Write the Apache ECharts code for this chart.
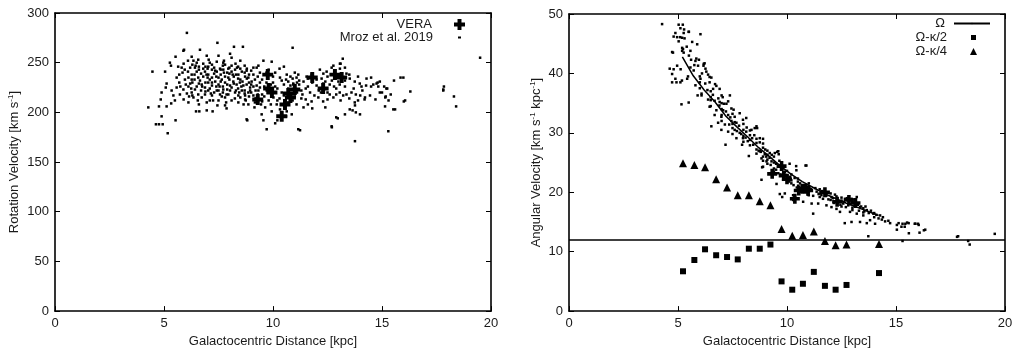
<!DOCTYPE html>
<html>
<head>
<meta charset="utf-8">
<script src="https://cdn.jsdelivr.net/npm/echarts@6/dist/echarts.min.js"></script>
<style>
  html, body { margin: 0; background: #fff; }
  #chart { width: 1018px; height: 353px; }
</style>
</head>
<body>
<div id="chart"></div>
<script>
// distance ticks shared by both panels
const xTicks = [0, 5, 10, 15, 20]
const vTicks = [0, 50, 100, 150, 200, 250, 300]
const omegaTicks = [0, 10, 20, 30, 40, 50]

// left panel: rotation velocity [R kpc, V km/s]
const veraRV = [
  [9.76, 238], [9.3, 213], [9.8, 224], [9.95, 220], [10.4, 196], [10.55, 208],
  [10.7, 219], [11.0, 223], [10.8, 215], [11.8, 235], [12.3, 224], [12.84, 238], [13.15, 235]
]
const mrozRV = [
  [4.28, 205], [4.47, 241], [4.63, 188], [4.77, 188], [4.94, 188], [4.77, 206], [4.89, 196], [5.17, 179],
  [5.05, 241], [5.27, 250], [5.53, 256], [5.53, 192], [6.05, 280], [5.92, 263], [7.45, 270], [7.75, 252],
  [8.03, 259], [8.21, 266], [8.62, 266], [6.65, 263], [10.9, 265], [8.79, 193], [9.71, 183], [11.16, 183],
  [13.76, 171], [15.29, 181], [12.69, 186], [12.97, 194], [13.99, 198], [17.81, 223], [17.84, 226], [18.3, 216],
  [18.4, 206], [19.5, 255], [15.98, 235], [15.55, 232], [16.3, 221], [16.0, 211], [15.6, 203], [15.14, 206],
  [15.24, 224], [15.17, 216], [14.75, 229], [14.83, 226], [14.27, 227], [14.22, 215], [13.07, 249], [13.2, 254],
  [13.07, 244], [13.76, 207], [13.65, 202],
  [4.89, 220], [4.85, 213], [5.12, 229], [5.08, 225], [5.32, 247], [5.89, 262], [8.1, 255], [7.5, 257],
  [6.96, 257], [6.27, 256], [6.35, 252], [5.81, 245], [5.85, 240], [5.58, 235], [5.7, 230], [5.43, 217],
  [5.5, 212], [5.9, 213], [5.33, 209], [5.12, 206], [6.62, 201], [6.47, 201], [7.23, 201], [7.87, 204],
  [7.8, 207], [8.82, 192], [9.56, 192], [10.1, 189], [9.56, 252], [9.25, 245], [9.33, 247], [10.5, 246],
  [9.94, 251], [8.79, 242], [8.7, 247], [8.5, 252], [8.28, 249], [7.72, 250], [7.8, 248], [7.42, 251],
  [7.2, 248], [7.03, 246], [6.8, 249], [6.57, 253], [6.6, 246], [6.42, 245], [6.5, 241], [6.27, 238],
  [6.12, 235], [5.96, 233], [6.27, 233], [6.57, 235], [6.65, 232], [6.88, 241], [7.03, 238], [7.2, 243],
  [7.42, 241], [7.57, 244], [7.72, 243], [7.95, 244], [8.1, 241], [8.26, 243], [8.41, 238], [8.57, 241],
  [8.72, 236], [8.87, 235], [9.1, 238], [9.02, 231], [9.17, 233], [6.73, 228], [6.88, 225], [7.03, 230],
  [7.2, 227], [7.35, 231], [7.5, 228], [7.65, 233], [7.8, 230], [7.95, 235], [8.03, 227], [8.18, 231],
  [8.33, 228], [8.48, 230], [8.64, 227], [8.79, 228], [8.95, 225], [9.25, 227], [9.33, 222], [6.42, 223],
  [6.57, 218], [6.27, 220], [6.12, 226], [5.89, 223], [6.88, 218], [7.03, 222], [7.2, 217], [7.42, 222],
  [7.57, 218], [7.72, 223], [7.87, 218], [8.03, 222], [8.26, 220], [8.41, 217], [8.57, 222], [8.72, 217],
  [8.87, 220], [9.1, 217], [6.73, 215], [6.96, 210], [7.1, 212], [7.5, 212], [7.8, 215], [8.1, 212],
  [8.41, 210], [8.72, 213], [8.87, 208], [9.17, 210], [6.35, 215], [6.12, 210], [5.73, 218], [5.58, 225],
  [5.35, 222], [6.96, 202],
  [10.32, 235], [10.63, 238], [10.7, 231], [10.93, 228], [11.08, 222], [9.71, 222], [10.02, 215], [10.17, 208],
  [10.32, 203], [10.63, 201], [10.86, 198], [9.94, 201], [9.64, 205], [9.48, 198], [11.08, 208],
  [13.1, 249], [12.69, 245], [12.77, 247], [13.3, 245], [13.37, 239], [12.31, 239], [12.23, 234], [12.4, 231],
  [13.52, 234], [13.75, 231], [13.98, 229], [14.06, 226], [14.29, 234], [14.5, 226], [14.6, 228], [14.8, 230],
  [15.1, 226], [15.2, 224], [15.4, 218], [15.85, 235], [16.06, 212], [15.52, 203], [15.3, 212], [14.9, 220],
  [14.7, 213], [14.45, 217], [14.2, 213], [14.0, 217], [13.8, 218], [13.6, 220], [13.37, 218], [13.22, 217],
  [13.06, 220], [12.9, 218], [12.77, 215], [12.6, 218], [12.5, 213], [12.3, 211], [12.08, 215], [11.9, 217],
  [11.77, 211], [11.6, 208], [11.5, 213], [11.35, 218], [11.3, 222], [11.1, 220], [11.2, 228], [11.4, 231],
  [11.6, 234], [11.8, 230], [12.0, 227], [13.75, 210], [13.52, 203], [13.8, 200], [13.3, 198], [12.9, 195],
  [12.7, 185], [11.24, 182], [17.81, 222], [15.0, 220], [15.15, 215],
  [10.93, 229], [11.08, 235], [11.16, 238], [11.54, 236], [11.77, 238], [12.15, 243], [12.46, 241], [12.9, 235],
  [13.06, 228], [12.6, 228], [10.85, 215],
  [6.2, 245], [6.4, 238], [6.6, 243], [6.8, 236], [7.0, 244], [7.1, 233], [7.3, 239], [7.4, 226],
  [7.6, 238], [7.7, 226], [7.9, 240], [8.0, 233], [8.2, 236], [8.4, 224], [8.5, 233], [8.7, 240],
  [8.9, 230], [9.0, 220], [9.2, 214], [9.4, 230], [9.5, 218], [9.6, 226], [9.8, 212], [10.0, 230],
  [10.2, 224], [10.3, 214], [10.5, 228], [10.7, 224], [10.9, 212], [11.0, 240], [6.0, 228], [6.3, 230],
  [6.5, 226], [6.7, 222], [6.9, 230], [7.1, 224], [7.3, 220], [7.5, 235], [7.7, 220], [7.9, 228],
  [8.1, 225], [8.3, 238], [8.5, 215], [8.7, 222], [8.9, 238], [9.1, 226], [9.3, 236], [9.5, 211],
  [9.7, 230], [9.9, 208], [5.7, 238], [5.9, 249], [6.1, 252], [6.3, 217], [6.6, 208], [6.9, 246],
  [7.2, 235], [7.6, 243], [8.0, 245], [8.4, 246], [8.8, 244], [9.0, 242], [9.4, 240], [9.8, 243],
  [10.1, 240], [10.4, 232], [10.8, 236], [11.2, 232], [11.6, 226], [12.0, 233], [12.2, 220], [12.5, 236],
  [12.8, 226], [13.0, 231], [13.3, 226], [13.5, 238], [13.9, 236], [14.1, 222], [14.5, 235], [14.9, 231],
  [6.1, 241], [6.2, 229], [6.3, 248], [6.4, 233], [6.5, 250], [6.6, 229], [6.7, 239], [6.8, 244],
  [6.9, 221], [7.0, 235], [7.1, 250], [7.2, 230], [7.3, 245], [7.4, 236], [7.5, 222], [7.6, 231],
  [7.7, 247], [7.8, 236], [7.9, 223], [8.0, 239], [8.1, 247], [8.2, 229], [8.3, 222], [8.4, 234],
  [8.5, 244], [8.6, 231], [8.7, 219], [8.8, 234], [8.9, 216], [9.0, 228], [9.1, 245], [9.2, 222],
  [9.3, 218], [9.4, 225], [9.5, 233], [9.6, 216], [9.7, 240], [9.9, 228], [10.0, 236], [10.1, 226],
  [10.2, 212], [10.3, 244], [10.4, 220], [10.5, 217], [10.6, 233], [10.7, 210], [10.8, 227], [10.9, 234],
  [11.0, 216], [11.1, 230], [11.3, 214], [11.5, 224], [11.7, 220], [11.9, 235], [12.1, 222], [12.3, 229],
  [12.5, 220], [12.7, 232], [12.9, 224], [13.1, 212], [13.3, 232], [13.5, 214], [13.7, 224], [13.9, 212],
  [6.05, 219], [6.25, 224], [6.45, 247], [6.75, 226], [6.95, 238], [7.15, 219], [7.35, 242], [7.55, 226],
  [7.75, 240], [7.95, 218], [8.15, 238], [8.35, 245], [8.55, 226], [8.75, 212], [8.95, 222], [7.05, 253],
  [7.65, 216], [8.45, 220], [5.95, 243], [5.75, 226], [5.65, 246], [6.15, 216], [7.25, 212], [7.85, 210],
  [8.65, 208], [9.15, 205], [9.45, 208], [10.6, 196], [10.2, 192], [11.4, 205], [11.8, 204], [12.4, 205],
  [6.55, 212], [7.45, 207], [8.25, 214]
]

// right panel: angular velocity [R kpc, Omega km/s/kpc]
const omegaR = [5.2, 5.7, 6.2, 6.7, 7.2, 7.7, 8.2, 8.7, 9.2, 9.7, 10.2, 10.7, 11.2, 11.7, 12.2, 12.7, 13.2, 13.7, 14.2]
const omegaVal = [42.8, 39.6, 37.2, 35.2, 32.8, 31.0, 29.3, 27.5, 26.0, 24.4, 23.0, 21.8, 20.8, 19.8, 19.0, 18.2, 17.5, 16.8, 16.1]
const kappaR = [5.23, 5.75, 6.24, 6.75, 7.25, 7.74, 8.25, 8.75, 9.24, 9.75, 10.24, 10.73, 11.23, 11.74, 12.23, 12.73, 14.22]
const omegaMinusHalfKappa = [6.7, 8.6, 10.4, 9.4, 9.1, 8.7, 10.5, 10.5, 11.2, 5.0, 3.6, 4.6, 6.6, 4.25, 3.6, 4.4, 6.4]
const omegaMinusQuarterKappa = [24.9, 24.6, 24.2, 22.2, 20.8, 19.5, 19.5, 18.5, 17.8, 13.8, 12.7, 12.8, 13.4, 11.8, 11.1, 11.2, 11.3]
const patternSpeed = 12
const veraOmega = [
  [9.32, 23.1], [9.75, 24.4], [9.85, 22.8], [10.0, 22.2], [10.36, 18.9], [10.54, 20.3], [10.7, 20.6],
  [10.85, 20.6], [10.97, 20.3], [11.74, 20.0], [12.3, 18.4], [12.84, 18.7], [13.14, 18.2]
]
const mrozOmega = [
  [4.27, 48.3], [5.03, 48.2], [5.22, 48.2], [5.11, 47.6], [4.88, 46.8], [4.8, 46.2], [4.96, 46.1], [5.19, 46.0],
  [5.26, 46.8], [5.49, 47.0], [6.03, 46.6], [5.88, 44.9], [5.19, 44.3], [5.19, 43.8], [5.26, 43.5], [5.03, 45.4],
  [4.73, 43.6], [4.62, 40.8], [4.8, 40.7], [4.96, 41.3], [4.73, 39.9], [4.88, 39.1], [4.73, 38.5], [5.11, 38.5],
  [5.42, 39.1], [5.8, 42.1], [5.92, 41.3], [6.18, 41.6], [6.26, 40.8], [5.57, 43.8], [5.16, 34.8], [5.49, 35.1],
  [6.08, 36.6], [5.9, 36.3], [5.8, 38.0], [6.03, 39.1], [5.57, 41.0], [5.72, 40.5],
  [5.28, 47.4], [5.5, 47.0], [5.1, 46.1], [5.3, 45.9], [4.77, 43.5], [5.23, 44.1], [5.12, 40.7], [4.93, 38.5],
  [5.18, 38.8], [5.46, 39.5], [5.84, 42.5], [5.96, 42.3], [6.22, 41.7], [6.17, 41.3], [6.3, 40.3], [6.38, 39.8],
  [6.53, 39.3], [6.45, 38.5], [6.76, 37.9], [6.61, 37.4], [6.91, 37.4], [6.08, 36.3], [7.0, 36.3], [7.38, 36.3],
  [6.38, 35.6], [6.68, 35.4], [6.91, 35.2], [7.22, 34.9], [6.45, 34.4], [6.76, 33.8], [7.07, 33.8], [7.45, 34.1],
  [6.68, 33.0], [6.99, 32.7], [7.3, 33.0], [7.6, 32.7], [7.83, 33.3], [6.53, 31.1], [6.84, 31.7], [7.15, 31.4],
  [7.45, 32.0], [7.68, 31.7], [7.98, 32.2], [8.13, 32.5], [8.52, 30.8], [8.6, 31.1], [6.99, 30.5], [7.3, 30.2],
  [7.6, 30.5], [7.83, 30.0], [8.13, 30.2], [8.37, 30.5], [8.75, 29.1], [8.9, 29.0], [7.98, 29.1], [7.68, 29.1],
  [8.75, 26.9], [8.98, 26.4], [9.21, 26.6], [9.44, 26.6], [9.6, 26.9], [8.83, 25.7], [9.06, 25.2], [9.29, 25.2],
  [8.9, 24.3], [9.67, 24.5], [9.6, 23.2], [9.37, 23.2], [9.9, 23.4], [9.82, 22.1], [10.05, 22.4], [10.51, 21.1],
  [10.59, 20.6], [10.28, 19.5], [10.74, 20.4], [11.05, 20.6], [11.36, 20.1], [11.73, 20.2], [11.58, 19.5], [12.04, 19.2],
  [12.27, 19.3], [12.35, 18.3], [12.66, 18.9], [12.96, 18.9], [13.12, 18.1], [12.81, 17.8], [12.58, 18.1], [13.2, 19.2],
  [13.35, 17.5], [13.66, 17.0], [13.96, 16.4], [14.27, 16.1], [12.65, 14.8], [12.96, 15.0], [13.35, 15.0], [13.66, 14.8],
  [13.81, 15.3], [14.04, 14.7], [14.35, 15.4], [14.65, 15.2], [14.73, 14.8], [15.04, 14.5], [15.12, 14.8], [15.43, 14.7],
  [15.58, 14.8], [15.89, 14.7], [16.04, 14.5], [15.04, 13.7], [16.34, 13.7], [10.89, 24.5], [10.43, 23.7], [11.2, 16.4],
  [10.12, 24.8], [8.83, 22.1], [9.52, 21.4], [9.67, 19.7], [10.74, 18.4], [10.28, 18.7], [11.13, 18.1], [11.43, 18.1],
  [11.81, 17.8], [12.04, 17.5], [12.27, 17.2], [12.43, 16.7], [12.89, 16.7], [13.2, 16.4], [13.5, 16.1],
  [15.51, 14.9], [15.3, 14.7], [15.86, 14.7], [16.01, 14.7], [15.4, 14.2], [15.25, 14.2], [16.28, 13.6], [15.59, 13.1],
  [16.08, 13.2], [17.8, 12.5], [17.85, 12.6], [18.31, 11.8], [18.38, 11.2], [19.53, 13.0], [15.3, 11.8], [13.73, 12.6],
  [10.42, 24.4], [9.78, 19.2], [9.9, 19.8],
  [8.0, 29.5], [8.0, 30.5], [8.0, 31.5], [8.0, 28.5], [8.3, 28.8], [8.3, 29.6], [8.3, 27.9], [8.3, 30.4],
  [8.6, 27.2], [8.6, 28.3], [8.6, 29.0], [8.6, 26.5], [8.9, 26.0], [8.9, 27.5], [8.9, 28.2], [8.9, 25.3],
  [9.1, 25.5], [9.1, 26.3], [9.1, 24.8], [9.1, 27.0], [9.4, 24.0], [9.4, 25.0], [9.4, 23.5], [9.4, 26.0],
  [10.2, 22.0], [10.2, 21.5], [10.2, 23.0], [10.5, 21.8], [10.5, 22.3], [11.0, 20.0], [11.0, 21.0], [11.0, 19.5],
  [11.0, 21.5], [11.5, 19.8], [11.5, 20.5], [11.5, 19.2], [12.0, 18.7], [12.0, 19.8], [12.5, 17.6], [12.5, 18.6],
  [12.5, 19.1], [13.0, 17.4], [13.0, 18.4], [13.0, 17.0], [13.5, 16.6], [13.5, 17.3], [14.0, 15.8], [14.0, 16.5],
  [6.0, 37.5], [6.0, 38.5], [6.0, 39.5], [6.5, 36.0], [6.5, 37.0], [6.5, 34.5], [6.5, 35.5], [7.0, 33.0],
  [7.0, 34.0], [7.0, 32.0], [7.0, 35.0], [7.5, 31.5], [7.5, 30.8], [7.5, 33.2], [7.5, 29.8],
  [7.18, 28.0], [8.25, 26.1], [8.86, 24.2], [7.94, 28.0], [9.62, 26.4], [8.63, 30.8], [9.55, 26.8], [10.85, 24.5],
  [7.6, 31.8], [7.7, 30.3], [7.8, 31.2], [7.9, 29.8], [8.1, 29.2], [8.15, 30.9], [8.2, 28.6], [8.4, 29.1],
  [8.45, 28.0], [8.5, 29.6], [8.7, 27.0], [8.75, 28.4], [8.8, 26.8], [9.0, 27.2], [9.05, 26.0], [9.2, 25.8],
  [9.25, 24.6], [9.3, 26.3], [9.5, 24.8], [9.5, 23.8], [9.65, 25.3], [9.7, 23.0], [9.8, 24.0], [9.95, 22.9],
  [10.0, 23.6], [10.1, 21.8], [10.15, 22.6], [10.3, 21.2], [10.35, 22.4], [10.45, 20.8], [10.6, 21.5], [10.65, 20.1],
  [10.8, 21.0], [10.9, 20.2], [10.95, 19.6], [11.1, 20.5], [11.2, 19.4], [11.3, 20.7], [11.45, 19.7], [11.6, 20.2],
  [11.65, 18.9], [11.8, 19.4], [11.9, 18.8], [12.1, 19.0], [12.15, 18.2], [12.2, 19.6], [12.4, 18.5], [12.45, 17.9],
  [12.6, 18.4], [12.7, 17.5], [12.75, 19.0], [12.9, 18.0], [13.0, 18.8], [13.1, 17.7], [13.25, 17.9], [13.3, 16.9],
  [13.4, 17.6], [13.55, 16.8], [13.6, 17.6], [13.75, 16.5], [13.85, 16.9], [14.1, 16.2], [14.2, 15.6], [14.4, 15.8],
  [14.5, 15.1], [6.1, 40.0], [6.25, 38.3], [6.35, 37.2], [6.45, 39.4], [6.6, 36.4], [6.7, 38.2], [6.85, 35.8],
  [6.9, 34.6], [7.05, 36.0], [7.1, 34.9], [7.2, 33.6], [7.3, 35.3], [7.4, 32.6], [7.35, 31.4], [7.55, 33.9],
  [5.6, 42.3], [5.75, 41.4], [5.5, 43.0], [5.4, 44.5], [5.65, 45.3]
]

const fontFamily = '"Liberation Sans", Arial, sans-serif'
const textColor = '#1a1a1a'
const crossSymbol = 'path://M3.2,0H6.8V3.2H10V6.8H6.8V10H3.2V6.8H0V3.2H3.2Z'
const solidBlack = { color: '#000', opacity: 1 }

let chart = echarts.init(document.getElementById('chart'))

// 边框式坐标轴：底/左带标签，顶/右只有刻度
function boxAxes(gridIndex, ticks, name, nameGap, isX) {
  const step = ticks[1] - ticks[0]
  const base = {
    gridIndex: gridIndex,
    type: 'value',
    min: ticks[0],
    max: ticks[ticks.length - 1],
    interval: step,
    splitLine: { show: false },
    axisLine: { show: true, onZero: false, lineStyle: { color: '#000', width: 1.6 } },
    axisTick: { show: true, inside: true, length: 5, lineStyle: { color: '#000', width: 1 } }
  }
  return [
    Object.assign({}, base, {
      position: isX ? 'bottom' : 'left',
      name: name,
      nameLocation: 'middle',
      nameGap: nameGap,
      nameTextStyle: {
        fontFamily: fontFamily,
        fontSize: 13,
        color: textColor,
        rich: {
          t: { fontFamily: fontFamily, fontSize: 13, color: textColor },
          sup: { fontFamily: fontFamily, fontSize: 8, color: textColor, verticalAlign: 'top', padding: [0, 0, 6, 0] }
        }
      },
      axisLabel: { show: true, margin: 6, fontFamily: fontFamily, fontSize: 13, color: textColor }
    }),
    Object.assign({}, base, {
      position: isX ? 'top' : 'right',
      axisLabel: { show: false }
    })
  ]
}

// 图例：文字在左，符号在右；gap 用文字右侧留白调
function legendItem(name, right, top, w, h, gap) {
  return {
    data: [name],
    orient: 'vertical',
    align: 'right',
    right: right,
    top: top,
    itemWidth: w,
    itemHeight: h,
    padding: 0,
    selectedMode: false,
    textStyle: { fontFamily: fontFamily, fontSize: 13, color: textColor, padding: [0, gap, 0, 0] }
  }
}

const option = {
  animation: false,
  backgroundColor: '#fff',
  grid: [
    { left: 55, right: 527, top: 13, bottom: 37 },
    { left: 569, right: 13, top: 14, bottom: 37 }
  ],
  xAxis: [].concat(
    boxAxes(0, xTicks, 'Galactocentric Distance [kpc]', 18, true),
    boxAxes(1, xTicks, 'Galactocentric Distance [kpc]', 18, true)
  ),
  yAxis: [].concat(
    boxAxes(0, vTicks, '{t|Rotation Velocity [km s}{sup|-1}{t|]}', 34, false),
    boxAxes(1, omegaTicks, '{t|Angular Velocity [km s}{sup|-1}{t| kpc}{sup|-1}{t|]}', 26, false)
  ),
  legend: [
    legendItem('VERA', 553, 18, 11, 11, 17),
    legendItem('Mroz et al. 2019', 557, 31, 3, 2, 20),
    legendItem('Ω', 27, 17, 36, 2, 4),
    legendItem('Ω-κ/2', 42, 31, 5, 5, 19),
    legendItem('Ω-κ/4', 41, 45, 7, 7, 18)
  ],
  series: [
    {
      name: 'Mroz et al. 2019',
      type: 'scatter',
      xAxisIndex: 0,
      yAxisIndex: 0,
      symbol: 'rect',
      symbolSize: [2.5, 2.5],
      itemStyle: solidBlack,
      data: mrozRV
    },
    {
      name: 'VERA',
      type: 'scatter',
      xAxisIndex: 0,
      yAxisIndex: 0,
      symbol: crossSymbol,
      symbolSize: 11,
      itemStyle: solidBlack,
      data: veraRV
    },
    {
      name: 'Mroz Ω',
      type: 'scatter',
      xAxisIndex: 2,
      yAxisIndex: 2,
      symbol: 'rect',
      symbolSize: [2.5, 2.5],
      itemStyle: solidBlack,
      data: mrozOmega
    },
    {
      name: 'VERA Ω',
      type: 'scatter',
      xAxisIndex: 2,
      yAxisIndex: 2,
      symbol: crossSymbol,
      symbolSize: 10,
      itemStyle: solidBlack,
      data: veraOmega
    },
    {
      name: 'Ω',
      type: 'line',
      xAxisIndex: 2,
      yAxisIndex: 2,
      symbol: 'none',
      lineStyle: { color: '#000', width: 1.5 },
      itemStyle: solidBlack,
      data: omegaR.map((r, i) => [r, omegaVal[i]]),
      markLine: {
        silent: true,
        symbol: 'none',
        label: { show: false },
        lineStyle: { color: '#000', width: 1.6, type: 'solid' },
        data: [{ yAxis: patternSpeed }]
      }
    },
    {
      name: 'Ω-κ/2',
      type: 'scatter',
      xAxisIndex: 2,
      yAxisIndex: 2,
      symbol: 'rect',
      symbolSize: 6,
      itemStyle: solidBlack,
      data: kappaR.map((r, i) => [r, omegaMinusHalfKappa[i]])
    },
    {
      name: 'Ω-κ/4',
      type: 'scatter',
      xAxisIndex: 2,
      yAxisIndex: 2,
      symbol: 'triangle',
      symbolSize: 8,
      itemStyle: solidBlack,
      data: kappaR.map((r, i) => [r, omegaMinusQuarterKappa[i]])
    }
  ]
}

chart.setOption(option)
</script>
</body>
</html>
